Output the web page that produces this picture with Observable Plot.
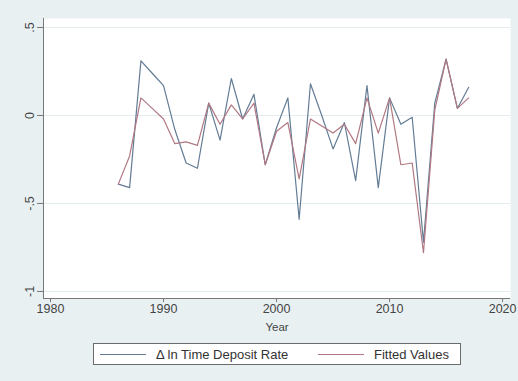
<!DOCTYPE html>
<html>
<head>
<meta charset="utf-8">
<script src="https://cdn.jsdelivr.net/npm/d3@7"></script>
<script src="https://cdn.jsdelivr.net/npm/@observablehq/plot@0.6"></script>
<style>
  html, body { margin: 0; padding: 0; background: #e9f0f2; }
  #wrap { position: relative; width: 518px; height: 381px; background: #e9f0f2; font-family: "Liberation Sans", Arial, sans-serif; }
  #legend { position: absolute; left: 93px; top: 343px; width: 368px; height: 22px; background: #fff; border: 1px solid #6b6b6b; box-sizing: border-box; font-size: 13px; color: #333; }
  .item { position: absolute; top: 2px; display: flex; align-items: center; height: 16px; }
  .sw { display: inline-block; width: 46px; height: 0; border-top: 1.5px solid; margin-right: 10px; }
</style>
</head>
<body>
<div id="wrap">
  <div id="chart"></div>
  <div id="legend"></div>
</div>
<script>
const years = [1986,1987,1988,1989,1990,1991,1992,1993,1994,1995,1996,1997,1998,1999,2000,2001,2002,2003,2004,2005,2006,2007,2008,2009,2010,2011,2012,2013,2014,2015,2016,2017];
const depositRate = [-0.39,-0.41,0.31,0.24,0.17,-0.08,-0.27,-0.30,0.07,-0.14,0.21,-0.02,0.12,-0.28,-0.07,0.10,-0.59,0.18,0.00,-0.19,-0.04,-0.37,0.17,-0.41,0.10,-0.05,-0.01,-0.72,0.07,0.32,0.04,0.16];
const fittedValues = [-0.39,-0.23,0.10,0.04,-0.02,-0.16,-0.15,-0.17,0.07,-0.05,0.06,-0.02,0.07,-0.28,-0.09,-0.04,-0.36,-0.02,-0.06,-0.10,-0.05,-0.16,0.10,-0.10,0.10,-0.28,-0.27,-0.78,0.03,0.32,0.04,0.10];
const seriesNames = ["\u0394 ln Time Deposit Rate", "Fitted Values"];
const seriesColors = ["#637c95", "#b07882"];
const xTicks = [1980, 1990, 2000, 2010, 2020];
const yTicks = [-1, -0.5, 0, 0.5];
const xTitle = "Year";

const rows = [];
years.forEach((y, i) => {
  rows.push({year: y, value: depositRate[i], series: seriesNames[0]});
  rows.push({year: y, value: fittedValues[i], series: seriesNames[1]});
});

const fmtY = d => d === 0 ? "0" : String(d).replace("0.", ".");

const chart = Plot.plot({
  width: 518,
  height: 338,
  marginLeft: 43,
  marginRight: 8,
  marginTop: 18,
  marginBottom: 40,
  style: {background: "transparent", fontFamily: "Liberation Sans, Arial, sans-serif", fontSize: "12.5px", color: "#444"},
  x: {domain: [1979.38, 2020.7]},
  y: {domain: [-1.04, 0.551]},
  color: {domain: seriesNames, range: seriesColors},
  marks: [
    Plot.frame({fill: "white", stroke: "none"}),
    Plot.gridY(yTicks, {stroke: "#e4ecef", strokeOpacity: 1, strokeWidth: 1}),
    Plot.axisY(yTicks, {tickFormat: fmtY, tickSize: 6, tickPadding: 4, tickRotate: -90, stroke: "#777", label: null, fontSize: 12.5, fill: "#444"}),
    Plot.axisX(xTicks, {tickFormat: d => String(d), tickSize: 4, tickPadding: 2, stroke: "#777", label: null, fontSize: 12.5, fill: "#444"}),
    Plot.ruleX([1979.38], {stroke: "#777"}),
    Plot.ruleY([-1.04], {stroke: "#777"}),
    Plot.text([xTitle], {frameAnchor: "bottom", dy: 32, fontSize: 11.5, fill: "#444"}),
    Plot.line(rows, {x: "year", y: "value", z: "series", stroke: "series", strokeWidth: 1.2})
  ]
});
document.getElementById("chart").appendChild(chart);

const legend = document.getElementById("legend");
const lefts = [6, 224];
seriesNames.forEach((n, i) => {
  const it = document.createElement("div");
  it.className = "item";
  it.style.left = lefts[i] + "px";
  const sw = document.createElement("span");
  sw.className = "sw";
  sw.style.borderTopColor = seriesColors[i];
  const tx = document.createElement("span");
  tx.textContent = n;
  it.appendChild(sw); it.appendChild(tx);
  legend.appendChild(it);
});
</script>
</body>
</html>
